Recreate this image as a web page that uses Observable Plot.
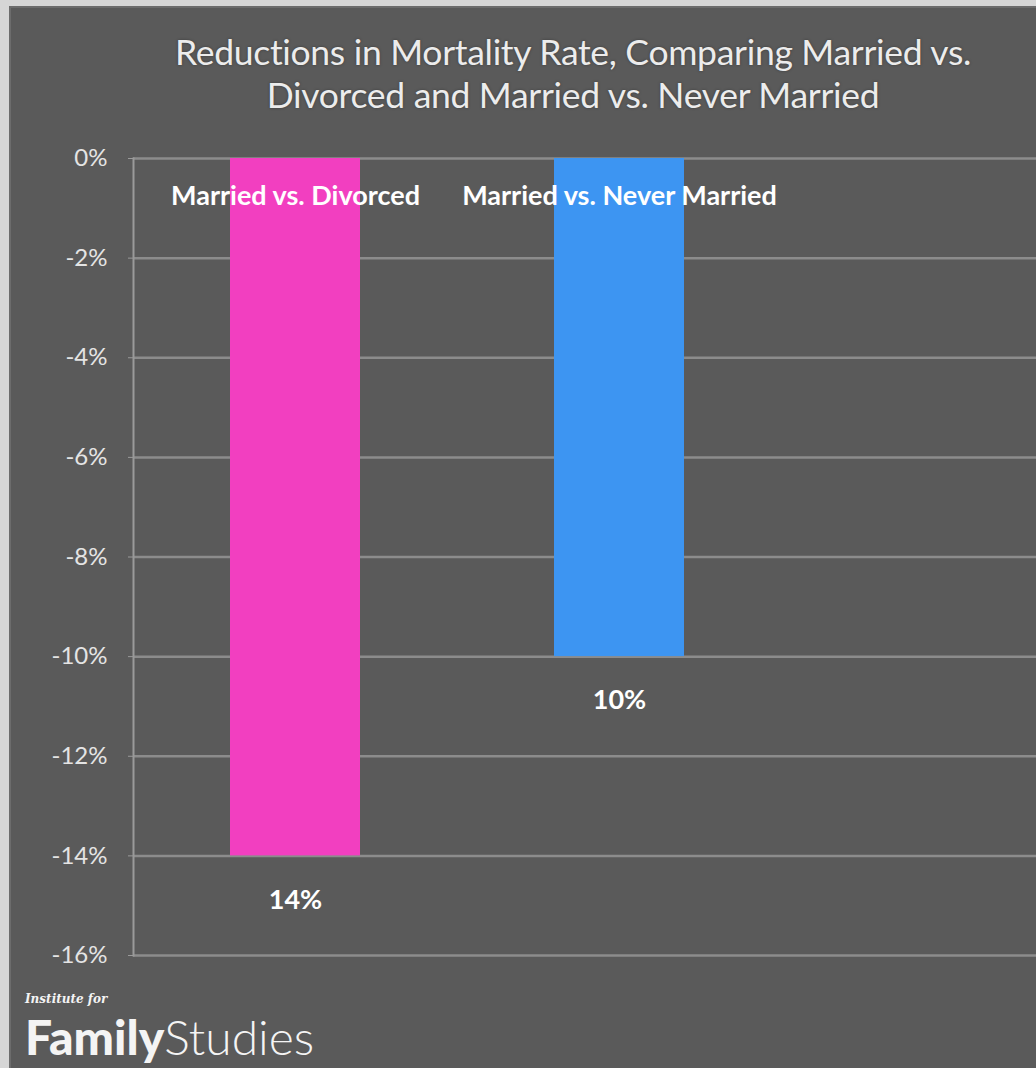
<!DOCTYPE html>
<html>
<head>
<meta charset="utf-8">
<script src="https://cdn.jsdelivr.net/npm/d3@7"></script>
<script src="https://cdn.jsdelivr.net/npm/@observablehq/plot@0.6"></script>
<style>
  html, body { margin: 0; padding: 0; background: #d6d6d6; overflow: hidden; }
  #frame {
    position: relative; margin-left: 9px; margin-top: 6px;
    width: 1027px; height: 1062px; background: #5a5a5a; overflow: hidden;
    box-shadow: inset 2px 2px 0 #6c6c6c;
    font-family: Lato, "Open Sans", sans-serif;
  }
  #title {
    margin: 0; padding: 24px 0 0 101px; box-sizing: border-box; width: 1027px; height: 110px;
    text-align: center; color: #ececec; font-weight: 400; font-size: 35.5px; line-height: 43px;
    letter-spacing: -0.3px; white-space: nowrap;
    text-shadow: 0 0 3px rgba(0,0,0,0.35);
  }
  #chart { display: block; }
  #logo { position: absolute; left: 16px; top: 986px; color: #f4f4f4; }
  #logo .small { font-family: "DejaVu Serif", serif; font-style: italic; font-size: 12px; line-height: 14px; font-weight: bold; }
  #logo .big { font-size: 48px; line-height: 48px; margin-top: 7px; letter-spacing: 0px; white-space: nowrap; }
  #logo .big b { font-weight: 900; }
  #logo .big span { font-weight: 300; }
</style>
</head>
<body>
<div id="frame">
  <h2 id="title">Reductions in Mortality Rate, Comparing Married vs.<br>Divorced and Married vs. Never Married</h2>
  <div id="chart"></div>
  <div id="logo"><div class="small">Institute for</div><div class="big"><b>Family</b><span>Studies</span></div></div>
</div>
<script>
const categories = ["Married vs. Divorced", "Married vs. Never Married"];
const values = [-14, -10];
const colors = ["#f23fc0", "#3d95f2"];
const yTicks = [0, -2, -4, -6, -8, -10, -12, -14, -16];

const data = categories.map((c, i) => ({cat: c, value: values[i], color: colors[i]}));

const plot = Plot.plot({
  width: 1027,
  height: 859,
  marginTop: 42,
  marginBottom: 20,
  marginLeft: 124,
  marginRight: 0,
  style: {background: "transparent", color: "#e4e4e4", fontFamily: "Lato, 'Open Sans', sans-serif"},
  x: {domain: categories, range: [124, 124 + 2 * 324], paddingInner: 0.6, paddingOuter: 0.3, axis: null},
  y: {domain: [-16, 0], ticks: yTicks},
  color: {type: "identity"},
  marks: [
    Plot.ruleY(yTicks, {stroke: "#8c8c8c", strokeWidth: 2.5}),
    Plot.barY(data, {x: "cat", y: "value", fill: "color"}),
    Plot.frame({anchor: "left", stroke: "#9a9a9a", strokeWidth: 2}),
    Plot.axisY({
      ticks: yTicks, tickSize: 5, tickPadding: 21, stroke: "#9a9a9a",
      tickFormat: d => String(d).replace("\u2212", "-") + "%",
      fontSize: 24, fill: "#e4e4e4", label: null
    }),
    Plot.text(data, {
      x: "cat", frameAnchor: "top", dy: 27, text: "cat",
      fill: "#ffffff", fontSize: 27, fontWeight: "bold", letterSpacing: -0.3
    }),
    Plot.text(data, {
      x: "cat", y: "value", dy: 44, text: d => Math.abs(d.value) + "%",
      fill: "#ffffff", fontSize: 27, fontWeight: "bold"
    })
  ]
});
document.getElementById("chart").appendChild(plot);
</script>
</body>
</html>
